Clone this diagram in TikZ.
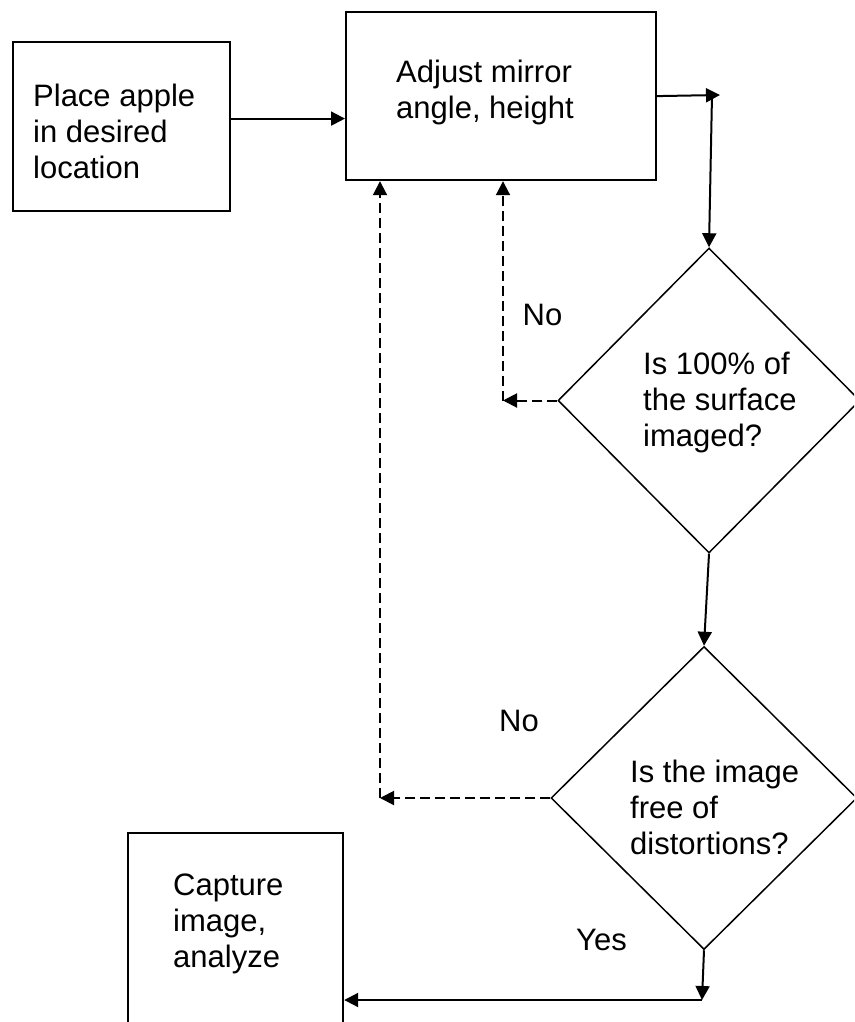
\documentclass[tikz,border=0pt]{standalone}
\usepackage{fontspec}
\setmainfont{Liberation Sans}
\usetikzlibrary{shapes.geometric,arrows.meta}

\begin{document}
\begin{tikzpicture}[x=1pt,y=-1pt,
        >={Triangle[length=14pt,width=14pt]},
        box/.style={draw,line width=2.2pt,inner sep=0pt},
        decision/.style={draw,diamond,line width=1.5pt,inner sep=0pt},
        txt/.style={font=\fontsize{31}{36}\selectfont,align=left,inner sep=0pt},
        flow/.style={->,line width=2pt},
        back/.style={->,line width=2pt,dash pattern=on 10pt off 5pt}]

        \useasboundingbox (0,0) rectangle (854,1022);
        \clip (0,0) rectangle (854,1022);

        % Define shapes
        \node[box,minimum width=217pt,minimum height=169pt,anchor=north west] (place) at (12,41) {};
        \node[box,minimum width=310pt,minimum height=168pt,anchor=north west] (adjust) at (345,11) {};
        \node[decision,minimum width=302pt,minimum height=305pt] (check1) at (709,400.5) {};
        \node[decision,minimum width=306pt,minimum height=303pt] (check2) at (704,798) {};
        \node[box,minimum width=215pt,minimum height=230pt,anchor=north west] (capture) at (127,832) {};

        % Texts
        \node[txt,anchor=north west] (place text) at (33,84) {Place apple\\in desired\\location};
        \node[txt,anchor=north west] (adjust text) at (396,59.5) {Adjust mirror\\angle, height};
        \node[txt,anchor=north west] (check1 text) at (643,352) {Is 100\% of\\the surface\\imaged?};
        \node[txt,anchor=north west] (check2 text) at (630,759.5) {Is the image\\free of\\distortions?};
        \node[txt,anchor=north west] (capture text) at (173,874) {Capture\\image,\\analyze};
        \node[txt,anchor=base] (no1) at (542.5,325) {No};
        \node[txt,anchor=base] (no2) at (519,731) {No};
        \node[txt,anchor=base] (yes) at (601.5,950) {Yes};

        % Bends
        \coordinate (turn) at (712,95);
        \coordinate (back1) at (503,400.5);
        \coordinate (back2) at (380,798);
        \coordinate (down) at (702,1000);

        % Draw edges
        \draw[flow] ([yshift=8pt]place.east) -- ([yshift=8pt]place.east -| adjust.west);
        \draw[flow] (adjust.east) -- ([xshift=8pt]turn);
        \draw[flow] (turn) -- (check1.north);
        \draw[back] (check1.west) -- (back1);
        \draw[back] (back1) -- (back1 |- adjust.south);
        \draw[flow] (check1.south) -- (check2.north);
        \draw[back] (check2.west) -- (back2);
        \draw[back] (back2) -- (back2 |- adjust.south);
        \draw[flow] (check2.south) -- (down);
        \draw[flow] (down) -- (down -| capture.east);

\end{tikzpicture}
\end{document}
